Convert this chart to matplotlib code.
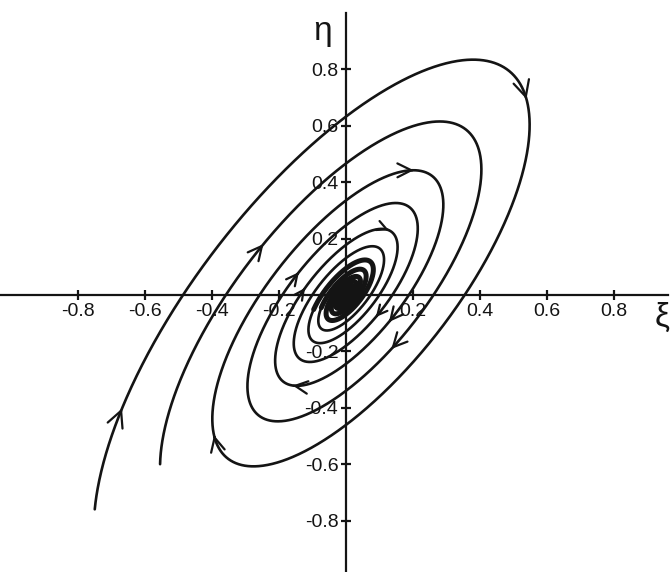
import numpy as np
import matplotlib
matplotlib.use("Agg")
import matplotlib.pyplot as plt

plt.rcParams['font.family'] = ['Liberation Sans', 'DejaVu Sans']
plt.rcParams['axes.unicode_minus'] = False

# linear system: xi' = a*xi + b*eta, eta' = c*xi + d*eta  (stable focus)
A = np.array([[-1.1, 1.0], [-1.98, 0.9]])

# two trajectories entering from the lower left
start_xi = [-0.75, -0.555]
start_eta = [-0.76, -0.60]
t_end = [60.0, 60.0]
# after this time the windings near the focus are drawn with a heavier pen
t_core = 19.5

# where the arrowheads sit along each trajectory (times) and their size
arrow_t = [[0.4, 2.9, 6.1, 8.65, 10.6, 11.9, 13.6, 15.2],
           [1.15, 4.45, 7.45, 10.7]]
arrow_size = [[1.15, 1.15, 1.0, 1.0, 0.9, 0.9, 0.7, 0.7],
              [1.0, 1.0, 0.8, 0.7]]

x_ticks = [-0.8, -0.6, -0.4, -0.2, 0.2, 0.4, 0.6, 0.8]
x_labels = ['-0.8', '-0.6', '-0.4', '-0.2', '0.2', '0.4', '0.6', '0.8']
y_ticks = [-0.8, -0.6, -0.4, -0.2, 0.2, 0.4, 0.6, 0.8]
y_labels = ['-0.8', '-0.6', '-0.4', '-0.2', '0.2', '0.4', '0.6', '0.8']

DT = 0.005
INK = '#141414'


def integrate(p0, t1, dt=DT):
    # plain RK4 steps
    n = int(t1 / dt)
    out = np.empty((n + 1, 2))
    p = np.array(p0, float)
    out[0] = p
    for i in range(n):
        k1 = A @ p
        k2 = A @ (p + 0.5 * dt * k1)
        k3 = A @ (p + 0.5 * dt * k2)
        k4 = A @ (p + dt * k3)
        p = p + dt / 6 * (k1 + 2 * k2 + 2 * k3 + k4)
        out[i + 1] = p
    return out


fig = plt.figure(figsize=(6.72, 5.72), dpi=100)
ax = fig.add_axes([0, 0, 1, 1])
ax.set_xlim(-346 / 335, (672 - 346) / 335)
ax.set_ylim((295 - 572) / 282, 295 / 282)

for k in range(len(start_xi)):
    tr = integrate((start_xi[k], start_eta[k]), t_end[k])
    ic = int(t_core / DT)
    ax.plot(tr[:ic + 1, 0], tr[:ic + 1, 1], color=INK, lw=1.9, solid_capstyle='round')
    ax.plot(tr[ic:, 0], tr[ic:, 1], color=INK, lw=3.6, solid_capstyle='round')
    for t, s in zip(arrow_t[k], arrow_size[k]):
        i = int(t / DT)
        ax.annotate('', xy=tr[i], xytext=tr[i - 4],
                    arrowprops=dict(arrowstyle=f'->,head_length={s},head_width={s*0.5}',
                                    lw=1.6, color=INK, shrinkA=0, shrinkB=0))

# axes through the origin
for side in ['top', 'right']:
    ax.spines[side].set_visible(False)
ax.spines['left'].set_position(('data', 0))
ax.spines['bottom'].set_position(('data', 0))
ax.spines['left'].set_bounds(ax.get_ylim()[0], 1.0)
ax.spines['bottom'].set_bounds(ax.get_xlim()[0], 0.96)
for side in ['left', 'bottom']:
    ax.spines[side].set_linewidth(1.6)
    ax.spines[side].set_color(INK)

ax.set_xticks(x_ticks, x_labels)
ax.set_yticks(y_ticks, y_labels)
ax.tick_params(direction='inout', length=7, width=1.6, labelsize=14, colors=INK)
ax.tick_params(axis='x', pad=2)
ax.tick_params(axis='y', pad=2)

ax.text(-0.07, 0.935, 'η', fontsize=24, ha='center', va='center', color=INK)
ax.text(0.945, -0.08, 'ξ', fontsize=24, ha='center', va='center', color=INK)

fig.savefig('out.png')
